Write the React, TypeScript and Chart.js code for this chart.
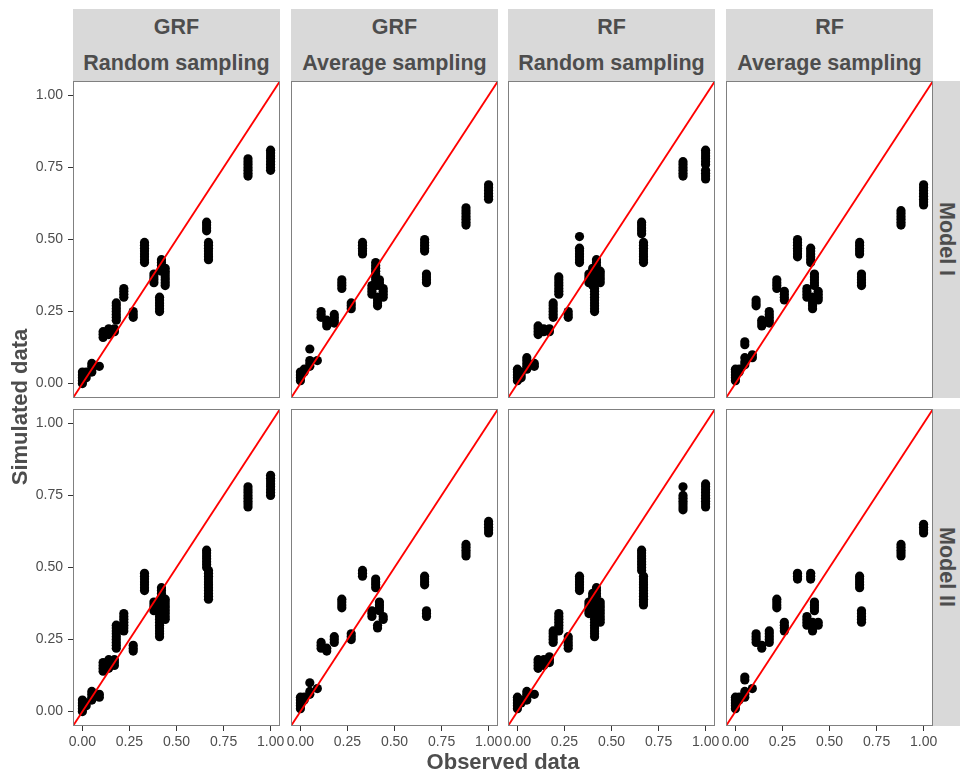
import React, { useEffect, useRef } from 'react';
import { Chart, registerables } from 'chart.js';

Chart.register(...registerables);

// ---- Data: each cluster is [observed, simulated values...] ----
const grfRandomModel1 = [
  [0, 0.0, 0.01, 0.02, 0.03, 0.04], [0.02, 0.02, 0.03, 0.04], [0.05, 0.04, 0.05, 0.06, 0.07], [0.09, 0.06],
  [0.11, 0.16, 0.17, 0.18], [0.14, 0.17, 0.18, 0.19], [0.17, 0.18, 0.19],
  [0.18, 0.22, 0.23, 0.24, 0.25, 0.26, 0.27, 0.28], [0.22, 0.3, 0.31, 0.32, 0.33], [0.27, 0.23, 0.24, 0.25],
  [0.33, 0.42, 0.43, 0.44, 0.45, 0.46, 0.47, 0.48, 0.49], [0.38, 0.35, 0.36, 0.37, 0.38],
  [0.41, 0.25, 0.26, 0.27, 0.28, 0.29, 0.3], [0.42, 0.39, 0.4, 0.41, 0.42, 0.43],
  [0.44, 0.34, 0.35, 0.36, 0.37, 0.38, 0.39, 0.4], [0.66, 0.53, 0.54, 0.55, 0.56],
  [0.67, 0.43, 0.44, 0.45, 0.46, 0.47, 0.48, 0.49], [0.88, 0.72, 0.73, 0.74, 0.75, 0.76, 0.77, 0.78],
  [1.0, 0.74, 0.75, 0.76, 0.77, 0.78, 0.79, 0.8, 0.81],
];
const grfAverageModel1 = [
  [0, 0.01, 0.02, 0.03, 0.04], [0.02, 0.04, 0.05], [0.05, 0.06, 0.07, 0.08, 0.12], [0.09, 0.08],
  [0.11, 0.23, 0.24, 0.25], [0.14, 0.2, 0.21, 0.22], [0.18, 0.21, 0.22, 0.23, 0.24], [0.22, 0.33, 0.34, 0.35, 0.36],
  [0.27, 0.26, 0.27, 0.28], [0.33, 0.45, 0.46, 0.47, 0.48, 0.49], [0.38, 0.31, 0.32, 0.33, 0.34],
  [0.4, 0.34, 0.35, 0.36, 0.37, 0.38, 0.39, 0.4, 0.41, 0.42], [0.41, 0.27, 0.28, 0.29, 0.3], [0.42, 0.34, 0.35, 0.36],
  [0.44, 0.3, 0.31, 0.32, 0.33], [0.66, 0.46, 0.47, 0.48, 0.49, 0.5], [0.67, 0.35, 0.36, 0.37, 0.38],
  [0.88, 0.55, 0.56, 0.57, 0.58, 0.59, 0.6, 0.61], [1.0, 0.64, 0.65, 0.66, 0.67, 0.68, 0.69],
];
const rfRandomModel1 = [
  [0, 0.01, 0.02, 0.03, 0.04, 0.05], [0.02, 0.02, 0.03, 0.04], [0.05, 0.05, 0.06, 0.07, 0.08, 0.09], [0.09, 0.06, 0.07],
  [0.11, 0.17, 0.18, 0.19, 0.2], [0.14, 0.18, 0.19], [0.17, 0.18, 0.19], [0.19, 0.23, 0.24, 0.25, 0.26, 0.27, 0.28],
  [0.22, 0.31, 0.32, 0.33, 0.34, 0.35, 0.36, 0.37], [0.27, 0.23, 0.24, 0.25],
  [0.33, 0.42, 0.43, 0.44, 0.45, 0.46, 0.47, 0.51], [0.38, 0.35, 0.36, 0.37, 0.38],
  [0.4, 0.34, 0.35, 0.36, 0.37, 0.38, 0.39, 0.4], [0.41, 0.25, 0.26, 0.27, 0.28, 0.29, 0.3, 0.31, 0.32, 0.33],
  [0.42, 0.41, 0.42, 0.43], [0.44, 0.35, 0.36, 0.37, 0.38, 0.39], [0.66, 0.52, 0.53, 0.54, 0.55, 0.56],
  [0.67, 0.42, 0.43, 0.44, 0.45, 0.46, 0.47, 0.48, 0.49], [0.88, 0.72, 0.73, 0.74, 0.75, 0.76, 0.77],
  [1.0, 0.71, 0.72, 0.73, 0.74, 0.76, 0.77, 0.78, 0.79, 0.8, 0.81],
];
const rfAverageModel1 = [
  [0, 0.01, 0.02, 0.03, 0.04, 0.05], [0.02, 0.04, 0.05], [0.05, 0.065, 0.075, 0.09, 0.135, 0.145], [0.09, 0.09, 0.1],
  [0.11, 0.27, 0.28, 0.29], [0.14, 0.2, 0.21, 0.22], [0.18, 0.21, 0.22, 0.23, 0.24, 0.25], [0.22, 0.33, 0.34, 0.35, 0.36],
  [0.26, 0.29, 0.3, 0.31, 0.32], [0.33, 0.44, 0.45, 0.46, 0.47, 0.48, 0.49, 0.5], [0.38, 0.3, 0.31, 0.32, 0.33],
  [0.4, 0.42, 0.43, 0.44, 0.45, 0.46, 0.47], [0.41, 0.26, 0.27, 0.28, 0.29, 0.3], [0.42, 0.34, 0.35, 0.36, 0.37, 0.38],
  [0.44, 0.29, 0.3, 0.31, 0.32], [0.66, 0.45, 0.46, 0.47, 0.48, 0.49], [0.67, 0.34, 0.35, 0.36, 0.37, 0.38],
  [0.88, 0.55, 0.56, 0.57, 0.58, 0.59, 0.6], [1.0, 0.62, 0.63, 0.64, 0.65, 0.66, 0.67, 0.68, 0.69],
];
const grfRandomModel2 = [
  [0, 0.0, 0.01, 0.02, 0.03, 0.04], [0.02, 0.02, 0.03], [0.05, 0.04, 0.05, 0.06, 0.07], [0.09, 0.05, 0.06],
  [0.11, 0.14, 0.15, 0.16, 0.17], [0.14, 0.15, 0.16, 0.17, 0.18], [0.17, 0.16, 0.17, 0.18],
  [0.18, 0.22, 0.23, 0.24, 0.25, 0.26, 0.27, 0.28, 0.29, 0.3], [0.22, 0.28, 0.29, 0.3, 0.31, 0.32, 0.33, 0.34],
  [0.27, 0.21, 0.22, 0.23], [0.33, 0.42, 0.43, 0.44, 0.45, 0.46, 0.47, 0.48], [0.38, 0.35, 0.36, 0.37, 0.38],
  [0.41, 0.26, 0.27, 0.28, 0.29, 0.3, 0.31, 0.32, 0.33, 0.34, 0.35, 0.36, 0.37], [0.42, 0.39, 0.4, 0.41, 0.42, 0.43],
  [0.44, 0.32, 0.33, 0.34, 0.35, 0.36, 0.37, 0.38, 0.39], [0.66, 0.5, 0.51, 0.52, 0.53, 0.54, 0.55, 0.56],
  [0.67, 0.39, 0.4, 0.41, 0.42, 0.43, 0.44, 0.45, 0.46, 0.47, 0.48, 0.49],
  [0.88, 0.71, 0.72, 0.73, 0.74, 0.75, 0.76, 0.77, 0.78], [1.0, 0.75, 0.76, 0.77, 0.78, 0.79, 0.8, 0.81, 0.82],
];
const grfAverageModel2 = [
  [0, 0.01, 0.02, 0.03, 0.04, 0.05], [0.02, 0.04, 0.05], [0.05, 0.06, 0.07, 0.1], [0.09, 0.08],
  [0.11, 0.22, 0.23, 0.24], [0.14, 0.21, 0.22], [0.18, 0.24, 0.25, 0.26], [0.22, 0.36, 0.37, 0.38, 0.39],
  [0.27, 0.25, 0.26, 0.27], [0.33, 0.47, 0.48, 0.49], [0.4, 0.43, 0.44, 0.45, 0.46], [0.38, 0.33, 0.34, 0.35],
  [0.42, 0.35, 0.36, 0.37, 0.38], [0.41, 0.29, 0.3], [0.44, 0.32, 0.33],
  [0.66, 0.44, 0.45, 0.46, 0.47], [0.67, 0.33, 0.34, 0.35], [0.88, 0.54, 0.55, 0.56, 0.57, 0.58],
  [1.0, 0.62, 0.63, 0.64, 0.65, 0.66],
];
const rfRandomModel2 = [
  [0, 0.01, 0.02, 0.03, 0.04, 0.05], [0.02, 0.03, 0.04], [0.05, 0.04, 0.05, 0.06, 0.07], [0.09, 0.06],
  [0.11, 0.15, 0.16, 0.17, 0.18], [0.14, 0.16, 0.17, 0.18], [0.17, 0.17, 0.18, 0.19], [0.19, 0.24, 0.25, 0.26, 0.27, 0.28],
  [0.22, 0.28, 0.29, 0.3, 0.31, 0.32, 0.33, 0.34], [0.27, 0.22, 0.23, 0.24, 0.25, 0.26],
  [0.33, 0.42, 0.43, 0.44, 0.45, 0.46, 0.47], [0.38, 0.34, 0.35, 0.36, 0.37, 0.38], [0.4, 0.35, 0.36, 0.37, 0.38, 0.39, 0.4, 0.41],
  [0.41, 0.26, 0.27, 0.28, 0.29, 0.3, 0.31, 0.32, 0.33, 0.34, 0.35, 0.36, 0.37], [0.42, 0.4, 0.41, 0.42, 0.43],
  [0.44, 0.31, 0.32, 0.33, 0.34, 0.35, 0.36, 0.37, 0.38], [0.66, 0.49, 0.5, 0.51, 0.52, 0.53, 0.54, 0.55, 0.56],
  [0.67, 0.37, 0.38, 0.39, 0.4, 0.41, 0.42, 0.43, 0.44, 0.45, 0.46, 0.47],
  [0.88, 0.7, 0.71, 0.72, 0.73, 0.74, 0.75, 0.78], [1.0, 0.71, 0.72, 0.73, 0.74, 0.75, 0.76, 0.77, 0.78, 0.79],
];
const rfAverageModel2 = [
  [0, 0.01, 0.02, 0.03, 0.04, 0.05], [0.02, 0.04, 0.05], [0.05, 0.05, 0.06, 0.07, 0.11, 0.12], [0.09, 0.08],
  [0.11, 0.24, 0.25, 0.26, 0.27], [0.14, 0.22, 0.23], [0.18, 0.24, 0.25, 0.26, 0.27, 0.28], [0.22, 0.36, 0.37, 0.38, 0.39],
  [0.26, 0.28, 0.29, 0.3, 0.31], [0.33, 0.46, 0.47, 0.48], [0.4, 0.46, 0.47, 0.48], [0.38, 0.3, 0.31, 0.32, 0.33],
  [0.42, 0.35, 0.36, 0.37, 0.38], [0.41, 0.28, 0.29, 0.3, 0.31], [0.44, 0.3, 0.31],
  [0.66, 0.43, 0.44, 0.45, 0.46, 0.47], [0.67, 0.31, 0.32, 0.33, 0.34, 0.35], [0.88, 0.54, 0.55, 0.56, 0.57, 0.58],
  [1.0, 0.62, 0.63, 0.64, 0.65],
];

const methods = ['GRF', 'GRF', 'RF', 'RF'];
const samplings = ['Random sampling', 'Average sampling', 'Random sampling', 'Average sampling'];
const models = ['Model I', 'Model II'];
const panelData = [
  [grfRandomModel1, grfAverageModel1, rfRandomModel1, rfAverageModel1],
  [grfRandomModel2, grfAverageModel2, rfRandomModel2, rfAverageModel2],
];
const tickValues = [0, 0.25, 0.5, 0.75, 1];
const AXIS_MIN = -0.05;
const AXIS_MAX = 1.05;

// ---- Layout ----
const COL_LEFT = [73, 291, 508, 726];
const ROW_TOP = [81, 409];
const PANEL_W = 207;
const PANEL_H = 317;
const Y_AXIS_W = 70;
const X_AXIS_H = 30;
const SIDE_PAD = 12;
const FONT = '"Liberation Sans", Arial, Helvetica, sans-serif';
const TEXT_COLOR = '#4d4d4d';

const borderPlugin = {
  id: 'panelBorder',
  afterDraw(chart: any) {
    const { ctx, chartArea } = chart;
    ctx.save();
    ctx.strokeStyle = '#808080';
    ctx.lineWidth = 1;
    ctx.strokeRect(chartArea.left + 0.5, chartArea.top + 0.5, chartArea.right - chartArea.left - 1, chartArea.bottom - chartArea.top - 1);
    ctx.restore();
  },
};

function Panel({ clusters, row, col }: { clusters: number[][]; row: number; col: number }) {
  const ref = useRef<HTMLCanvasElement | null>(null);
  const leftExtra = col === 0 ? Y_AXIS_W : SIDE_PAD;
  const bottomExtra = row === 1 ? X_AXIS_H : 0;
  const w = PANEL_W + leftExtra + SIDE_PAD;
  const h = PANEL_H + bottomExtra;

  useEffect(() => {
    const points = clusters.flatMap(([x, ...ys]) => ys.map((y) => ({ x, y })));
    const tickFont = { family: FONT, size: 14 };
    const chart = new Chart(ref.current as HTMLCanvasElement, {
      type: 'scatter',
      data: {
        datasets: [
          {
            data: [{ x: AXIS_MIN, y: AXIS_MIN }, { x: AXIS_MAX, y: AXIS_MAX }],
            showLine: true,
            borderColor: '#ff0000',
            borderWidth: 1.8,
            pointRadius: 0,
            order: 0,
          },
          {
            data: points,
            backgroundColor: '#000000',
            borderWidth: 0,
            pointRadius: 4.6,
            order: 1,
          },
        ],
      },
      options: {
        responsive: false,
        animation: false,
        devicePixelRatio: 1,
        events: [],
        layout: {
          autoPadding: false,
          padding: { left: col === 0 ? 0 : SIDE_PAD, right: SIDE_PAD, top: 0, bottom: 0 },
        },
        plugins: { legend: { display: false }, tooltip: { enabled: false } },
        scales: {
          x: {
            type: 'linear',
            min: AXIS_MIN,
            max: AXIS_MAX,
            display: row === 1,
            afterFit: (s: any) => {
              if (row === 1) s.height = X_AXIS_H;
              s.paddingLeft = 0; s.paddingRight = 0; s.paddingTop = 0; s.paddingBottom = 0;
            },
            afterBuildTicks: (s: any) => { s.ticks = tickValues.map((v) => ({ value: v })); },
            ticks: {
              callback: (v: any) => Number(v).toFixed(2),
              font: tickFont,
              color: TEXT_COLOR,
              padding: 3,
              maxRotation: 0,
              autoSkip: false,
            },
            grid: { display: true, drawOnChartArea: false, drawTicks: true, tickLength: 5, color: '#333333', lineWidth: 1 },
            border: { display: false },
          },
          y: {
            type: 'linear',
            min: AXIS_MIN,
            max: AXIS_MAX,
            display: col === 0,
            afterFit: (s: any) => {
              if (col === 0) s.width = Y_AXIS_W;
              s.paddingLeft = 0; s.paddingRight = 0; s.paddingTop = 0; s.paddingBottom = 0;
            },
            afterBuildTicks: (s: any) => { s.ticks = tickValues.map((v) => ({ value: v })); },
            ticks: {
              callback: (v: any) => Number(v).toFixed(2),
              font: tickFont,
              color: TEXT_COLOR,
              padding: 5,
              autoSkip: false,
            },
            grid: { display: true, drawOnChartArea: false, drawTicks: true, tickLength: 5, color: '#333333', lineWidth: 1 },
            border: { display: false },
          },
        },
      } as any,
      plugins: [borderPlugin],
    });
    return () => chart.destroy();
  }, [clusters, row, col]);

  return (
    <canvas
      ref={ref}
      width={w}
      height={h}
      style={{ position: 'absolute', left: COL_LEFT[col] - leftExtra, top: ROW_TOP[row], width: w, height: h }}
    />
  );
}

const stripText: React.CSSProperties = {
  position: 'absolute',
  background: '#d9d9d9',
  color: TEXT_COLOR,
  fontFamily: FONT,
  fontWeight: 'bold',
  fontSize: 21.5,
  textAlign: 'center',
  whiteSpace: 'nowrap',
  overflow: 'hidden',
};

export default function App() {
  return (
    <div style={{ position: 'absolute', left: 0, top: 0, width: 960, height: 772, background: '#ffffff', overflow: 'hidden' }}>
      {methods.map((m, c) => (
        <React.Fragment key={'top' + c}>
          <div style={{ ...stripText, left: COL_LEFT[c], top: 9, width: PANEL_W, height: 36, lineHeight: '36px' }}>{m}</div>
          <div style={{ ...stripText, left: COL_LEFT[c], top: 45, width: PANEL_W, height: 36, lineHeight: '36px' }}>{samplings[c]}</div>
        </React.Fragment>
      ))}
      {models.map((m, r) => (
        <div
          key={'side' + r}
          style={{
            ...stripText,
            left: COL_LEFT[3] + PANEL_W,
            top: ROW_TOP[r],
            width: 27,
            height: PANEL_H,
            writingMode: 'vertical-rl',
            lineHeight: '27px',
          }}
        >
          {m}
        </div>
      ))}
      {panelData.map((rowData, r) =>
        rowData.map((clusters, c) => <Panel key={r + '-' + c} clusters={clusters} row={r} col={c} />)
      )}
      <div
        style={{
          position: 'absolute', left: 20 - 150, top: 407 - 14, width: 300, height: 28, lineHeight: '28px',
          transform: 'rotate(-90deg)', textAlign: 'center', fontFamily: FONT, fontWeight: 'bold', fontSize: 22, color: TEXT_COLOR,
        }}
      >
        Simulated data
      </div>
      <div
        style={{
          position: 'absolute', left: 503 - 150, top: 762 - 14, width: 300, height: 28, lineHeight: '28px',
          textAlign: 'center', fontFamily: FONT, fontWeight: 'bold', fontSize: 22, color: TEXT_COLOR,
        }}
      >
        Observed data
      </div>
    </div>
  );
}
